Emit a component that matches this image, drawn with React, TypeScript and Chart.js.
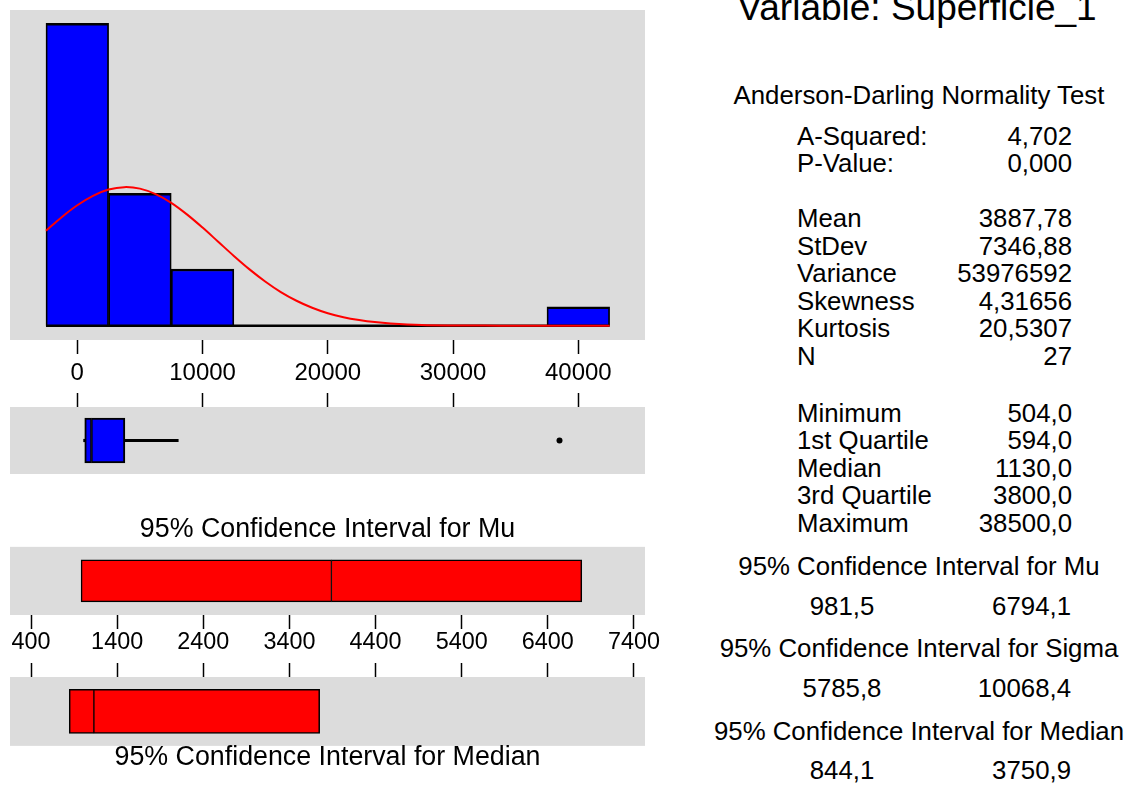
import React, { useEffect, useRef } from "react";
import { Chart, registerables } from "chart.js";

Chart.register(...registerables);

const FONT = "'Liberation Sans', Arial, sans-serif";

// ---------- Data ----------
const VARIABLE = "Superficie_1";
const BIN_CENTERS = [0, 5000, 10000, 15000, 20000, 25000, 30000, 35000, 40000];
const BIN_COUNTS = [16, 7, 3, 0, 0, 0, 0, 0, 1];
const BIN_WIDTH = 5000;
const HIST_TICKS = [0, 10000, 20000, 30000, 40000];

// fitted normal curve (expected counts)
const CURVE_X = [-2500, -1250, 0, 1250, 2500, 3750, 5000, 6250, 7500, 8750, 10000, 11250, 12500, 13750, 15000, 16250, 17500, 18750, 20000, 21250, 22500, 23750, 25000, 27500, 30000, 32500, 35000, 37500, 40000, 42500];
const CURVE_Y = [5.02, 5.74, 6.37, 6.87, 7.2, 7.33, 7.25, 6.96, 6.5, 5.89, 5.19, 4.44, 3.69, 2.98, 2.34, 1.78, 1.32, 0.95, 0.66, 0.45, 0.3, 0.19, 0.12, 0.04, 0.013, 0.004, 0.001, 0, 0, 0];

const A_SQUARED = 4.702;
const P_VALUE = 0.0;
const MEAN = 3887.78;
const STDEV = 7346.88;
const VARIANCE = 53976592;
const SKEWNESS = 4.31656;
const KURTOSIS = 20.5307;
const N = 27;
const MINIMUM = 504.0;
const Q1 = 594.0;
const MEDIAN = 1130.0;
const Q3 = 3800.0;
const MAXIMUM = 38500.0;
const WHISKER_HIGH = 8060; // upper whisker end (estimated)
const OUTLIERS = [38500];
const MU_CI = [981.5, 6794.1];
const SIGMA_CI = [5785.8, 10068.4];
const MEDIAN_CI = [844.1, 3750.9];
const CI_TICKS = [400, 1400, 2400, 3400, 4400, 5400, 6400, 7400];

// ---------- helpers ----------
const fmt = (v: number, d: number) => v.toFixed(d).replace(".", ",");

const CANVAS_W = 680;
const PAD = { left: 10, right: 35, top: 0, bottom: 0 };
const HIST_RANGE = { min: -5373, max: 45325 };
const CI_RANGE = { min: 156.2, max: 7528 };
const GRAY = "#DCDCDC";

const grayBg = {
  id: "grayBg",
  beforeDraw(chart: any) {
    const { ctx, chartArea: a } = chart;
    ctx.save();
    ctx.fillStyle = GRAY;
    ctx.fillRect(a.left, a.top, a.right - a.left, a.bottom - a.top);
    ctx.restore();
  },
};

function xAxis(
  range: { min: number; max: number },
  ticks: number[],
  position: "top" | "bottom",
  showLabels: boolean,
  height: number,
  fontSize: number,
  padding: number
) {
  return {
    type: "linear",
    position,
    min: range.min,
    max: range.max,
    offset: false,
    border: { display: false },
    grid: {
      display: true,
      offset: false,
      drawOnChartArea: false,
      drawTicks: true,
      tickLength: 14,
      tickWidth: 1.5,
      tickColor: "#000",
    },
    ticks: {
      display: showLabels,
      autoSkip: false,
      maxRotation: 0,
      minRotation: 0,
      padding,
      color: "#000",
      font: { family: FONT, size: fontSize, lineHeight: 1.2 },
      callback: (v: any) => String(v),
    },
    afterBuildTicks: (s: any) => {
      s.ticks = ticks.map((v) => ({ value: v }));
    },
    afterFit: (s: any) => {
      s.height = height;
    },
  };
}

const baseOptions = {
  animation: false,
  responsive: false,
  maintainAspectRatio: false,
  events: [],
  layout: { padding: PAD, autoPadding: false },
};

function histogramConfig(): any {
  const last = BIN_CENTERS.length - 1;
  return {
    type: "bar",
    data: {
      datasets: [
        {
          type: "line",
          data: CURVE_X.map((x, i) => ({ x, y: CURVE_Y[i] })),
          borderColor: "#FF0000",
          borderWidth: 2,
          pointRadius: 0,
          tension: 0.35,
          order: 0,
        },
        {
          type: "line",
          data: [
            { x: BIN_CENTERS[0] - BIN_WIDTH / 2, y: 0 },
            { x: BIN_CENTERS[last] + BIN_WIDTH / 2, y: 0 },
          ],
          borderColor: "#000",
          borderWidth: 2.5,
          pointRadius: 0,
          order: 1,
        },
        {
          type: "bar",
          data: BIN_CENTERS.map((x, i) => ({ x, y: BIN_COUNTS[i] })),
          backgroundColor: "#0000FF",
          borderColor: "#000",
          borderWidth: { top: 2.5, left: 1.75, right: 1.75, bottom: 0 },
          borderSkipped: false,
          barPercentage: 1,
          categoryPercentage: 1,
          order: 2,
        },
      ],
    },
    options: {
      ...baseOptions,
      plugins: { legend: { display: false }, tooltip: { enabled: false }, title: { display: false } },
      scales: {
        x: xAxis(HIST_RANGE, HIST_TICKS, "bottom", true, 50, 24, 5),
        y: { display: false, min: -0.757, max: 16.7 },
      },
    },
    plugins: [grayBg],
  };
}

function boxplotConfig(): any {
  const lab = [VARIABLE];
  const boxStyle = {
    backgroundColor: "#0000FF",
    borderColor: "#000",
    borderSkipped: false,
    barThickness: 45,
    grouped: false,
  };
  const whisker = {
    backgroundColor: "#000",
    borderWidth: 0,
    barThickness: 2.5,
    grouped: false,
  };
  return {
    type: "bar",
    data: {
      labels: lab,
      datasets: [
        { ...whisker, data: [[MINIMUM, Q1]] },
        { ...whisker, data: [[Q3, WHISKER_HIGH]] },
        { ...boxStyle, data: [[Q1, MEDIAN]], borderWidth: { left: 2, top: 2, bottom: 2, right: 1.5 } },
        { ...boxStyle, data: [[MEDIAN, Q3]], borderWidth: { left: 1.5, top: 2, bottom: 2, right: 2 } },
        {
          type: "scatter",
          data: OUTLIERS.map((v) => ({ x: v, y: VARIABLE })),
          pointRadius: 3,
          backgroundColor: "#000",
          borderWidth: 0,
        },
      ],
    },
    options: {
      ...baseOptions,
      indexAxis: "y",
      plugins: { legend: { display: false }, tooltip: { enabled: false }, title: { display: false } },
      scales: {
        x: xAxis(HIST_RANGE, HIST_TICKS, "top", false, 14, 24, 0),
        y: { type: "category", display: false, offset: true },
      },
    },
    plugins: [grayBg],
  };
}

function ciConfig(
  ci: number[],
  center: number,
  label: string,
  thickness: number,
  axisPos: "top" | "bottom",
  titlePos: "top" | "bottom"
): any {
  const style = {
    backgroundColor: "#FF0000",
    borderColor: "#000",
    borderSkipped: false,
    barThickness: thickness,
    grouped: false,
  };
  const axisLabels = axisPos === "bottom";
  return {
    type: "bar",
    data: {
      labels: [label],
      datasets: [
        { ...style, data: [[ci[0], center]], borderWidth: { left: 1.5, top: 1.5, bottom: 1.5, right: 1 } },
        { ...style, data: [[center, ci[1]]], borderWidth: { left: 1, top: 1.5, bottom: 1.5, right: 1.5 } },
      ],
    },
    options: {
      ...baseOptions,
      indexAxis: "y",
      plugins: {
        legend: { display: false },
        tooltip: { enabled: false },
        title: {
          display: true,
          position: titlePos,
          text: label,
          color: "#000",
          font: { family: FONT, size: 26.8, weight: "normal", lineHeight: titlePos === "top" ? 1.2 : 0.9 },
          padding: titlePos === "top" ? { top: 3.7, bottom: 1 } : { top: 0, bottom: 2 },
        },
      },
      scales: {
        x: xAxis(CI_RANGE, CI_TICKS, axisPos, axisLabels, axisLabels ? 47 : 14, 23.4, 0),
        y: { type: "category", display: false, offset: true },
      },
    },
    plugins: [grayBg],
  };
}

function ChartBox({ top, height, make }: { top: number; height: number; make: () => any }) {
  const ref = useRef<HTMLCanvasElement>(null);
  useEffect(() => {
    if (!ref.current) return;
    const chart = new Chart(ref.current, make());
    return () => chart.destroy();
  }, []);
  return (
    <canvas
      ref={ref}
      width={CANVAS_W}
      height={height}
      style={{ position: "absolute", left: 0, top, width: CANVAS_W, height, display: "block" }}
    />
  );
}

// text placed by cap-centre y
function T({
  x,
  y,
  text,
  align = "left",
  size = 25.8,
  w = 300,
}: {
  x: number;
  y: number;
  text: string;
  align?: "left" | "right" | "center";
  size?: number;
  w?: number;
}) {
  const top = y - 0.4885 * size;
  let left = x;
  if (align === "right") left = x - w;
  if (align === "center") left = x - w / 2;
  return (
    <div
      style={{
        position: "absolute",
        left,
        top,
        width: w,
        textAlign: align,
        fontFamily: FONT,
        fontSize: size,
        lineHeight: `${size}px`,
        color: "#000",
        whiteSpace: "nowrap",
      }}
    >
      {text}
    </div>
  );
}

const AD_LABELS = ["A-Squared:", "P-Value:"];
const AD_VALUES = [fmt(A_SQUARED, 3), fmt(P_VALUE, 3)];
const MOMENT_LABELS = ["Mean", "StDev", "Variance", "Skewness", "Kurtosis", "N"];
const MOMENT_VALUES = [fmt(MEAN, 2), fmt(STDEV, 2), String(VARIANCE), fmt(SKEWNESS, 5), fmt(KURTOSIS, 4), String(N)];
const QUANT_LABELS = ["Minimum", "1st Quartile", "Median", "3rd Quartile", "Maximum"];
const QUANT_VALUES = [MINIMUM, Q1, MEDIAN, Q3, MAXIMUM].map((v) => fmt(v, 1));

export default function App() {
  const LX = 797;
  const RX = 1072;
  const CX = 919;
  const rows: React.ReactNode[] = [];
  AD_LABELS.forEach((l, i) => {
    const y = 136.7 + 27.4 * i;
    rows.push(<T key={"adl" + i} x={LX} y={y} text={l} />);
    rows.push(<T key={"adv" + i} x={RX} y={y} text={AD_VALUES[i]} align="right" />);
  });
  MOMENT_LABELS.forEach((l, i) => {
    const y = 219 + 27.5 * i;
    rows.push(<T key={"ml" + i} x={LX} y={y} text={l} />);
    rows.push(<T key={"mv" + i} x={RX} y={y} text={MOMENT_VALUES[i]} align="right" />);
  });
  QUANT_LABELS.forEach((l, i) => {
    const y = 413.3 + 27.5 * i;
    rows.push(<T key={"ql" + i} x={LX} y={y} text={l} />);
    rows.push(<T key={"qv" + i} x={RX} y={y} text={QUANT_VALUES[i]} align="right" />);
  });
  const ciBlocks: [string, number[], number, number][] = [
    ["95% Confidence Interval for Mu", MU_CI, 566.7, 606.7],
    ["95% Confidence Interval for Sigma", SIGMA_CI, 648.3, 689],
    ["95% Confidence Interval for Median", MEDIAN_CI, 731.7, 771],
  ];
  ciBlocks.forEach(([title, ci, ty, vy], i) => {
    rows.push(<T key={"cit" + i} x={CX} y={ty} text={title} align="center" w={424} />);
    rows.push(<T key={"cil" + i} x={842} y={vy} text={fmt(ci[0], 1)} align="center" w={160} />);
    rows.push(<T key={"cir" + i} x={1071} y={vy} text={fmt(ci[1], 1)} align="right" w={160} />);
  });

  return (
    <div
      style={{
        position: "absolute",
        left: 0,
        top: 0,
        width: 1131,
        height: 785,
        overflow: "hidden",
        background: "#fff",
      }}
    >
      <ChartBox top={10} height={380} make={histogramConfig} />
      <ChartBox top={393} height={81} make={boxplotConfig} />
      <ChartBox
        top={510}
        height={152}
        make={() => ciConfig(MU_CI, MEAN, "95% Confidence Interval for Mu", 42, "bottom", "top")}
      />
      <ChartBox
        top={663}
        height={109}
        make={() => ciConfig(MEDIAN_CI, MEDIAN, "95% Confidence Interval for Median", 44, "top", "bottom")}
      />
      <T x={917} y={7.1} text={`Variable: ${VARIABLE}`} align="center" size={37} w={430} />
      <T x={CX} y={95.7} text="Anderson-Darling Normality Test" align="center" w={424} />
      {rows}
    </div>
  );
}
